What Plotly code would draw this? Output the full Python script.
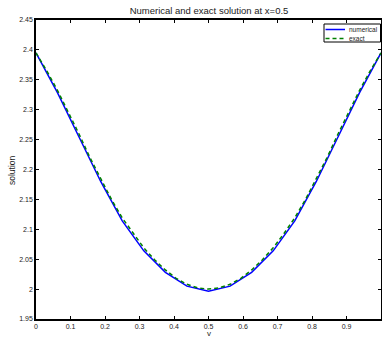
import plotly.graph_objects as go

# numerical solution at nodes v = k/16
v_num = [0, 0.0625, 0.125, 0.1875, 0.25, 0.3125, 0.375, 0.4375, 0.5,
         0.5625, 0.625, 0.6875, 0.75, 0.8125, 0.875, 0.9375, 1.0]
u_num = [2.395, 2.328, 2.254, 2.180, 2.114, 2.064, 2.028, 2.005, 1.9965,
         2.005, 2.028, 2.064, 2.114, 2.180, 2.254, 2.328, 2.395]

# exact solution at v = k/32
v_ex = [0, 0.03125, 0.0625, 0.09375, 0.125, 0.15625, 0.1875, 0.21875, 0.25,
        0.28125, 0.3125, 0.34375, 0.375, 0.40625, 0.4375, 0.46875, 0.5,
        0.53125, 0.5625, 0.59375, 0.625, 0.65625, 0.6875, 0.71875, 0.75,
        0.78125, 0.8125, 0.84375, 0.875, 0.90625, 0.9375, 0.96875, 1.0]
u_ex = [2.395, 2.365, 2.332, 2.296, 2.259, 2.220, 2.184, 2.150, 2.119,
        2.093, 2.069, 2.049, 2.032, 2.018, 2.008, 2.002, 2.000,
        2.002, 2.008, 2.018, 2.032, 2.049, 2.069, 2.093, 2.119,
        2.150, 2.184, 2.220, 2.259, 2.296, 2.332, 2.365, 2.395]

x_ticks = [0, 0.1, 0.2, 0.3, 0.4, 0.5, 0.6, 0.7, 0.8, 0.9, 1]
x_tick_text = ["0", "0.1", "0.2", "0.3", "0.4", "0.5", "0.6", "0.7", "0.8", "0.9", "1"]
y_ticks = [1.95, 2.0, 2.05, 2.1, 2.15, 2.2, 2.25, 2.3, 2.35, 2.4, 2.45]
y_tick_text = ["1.95", "2", "2.05", "2.1", "2.15", "2.2", "2.25", "2.3", "2.35", "2.4", "2.45"]

series_names = ["numerical", "exact"]
series_colors = ["rgb(0,0,255)", "rgb(0,128,0)"]

FONT = "Liberation Sans, Arial, sans-serif"
W, H = 382, 338
L, R, T, B = 36, 1, 20, 19
PW, PH = W - L - R, H - T - B

def px_x(p):
    return (p - L) / PW

def px_y(p):
    return 1 - (p - T) / PH

fig = go.Figure()
fig.add_trace(go.Scatter(x=v_num, y=u_num, mode="lines", name=series_names[0],
                         line=dict(color=series_colors[0], width=1.5)))
fig.add_trace(go.Scatter(x=v_ex, y=u_ex, mode="lines", name=series_names[1],
                         line=dict(color=series_colors[1], width=1.5, dash="4px,3px")))

axis_common = dict(showline=True, linecolor="black", linewidth=1.5, mirror="ticks",
                   ticks="inside", ticklen=3, tickcolor="black", tickwidth=1,
                   showgrid=False, zeroline=False, automargin=False,
                   tickfont=dict(family=FONT, size=7, color="#222"))

shapes = []
annotations = []
# legend box
shapes.append(dict(type="rect", xref="paper", yref="paper",
                   x0=px_x(324), x1=px_x(380.5), y0=px_y(42), y1=px_y(24),
                   line=dict(color="black", width=1), fillcolor="white", layer="above"))
for i, (nm, col) in enumerate(zip(series_names, series_colors)):
    yy = px_y(29.5 + 9 * i)
    shapes.append(dict(type="line", xref="paper", yref="paper",
                       x0=px_x(325.5), x1=px_x(345), y0=yy, y1=yy,
                       line=dict(color=col, width=1.5, dash="solid" if i == 0 else "4px,3px"),
                       layer="above"))
    annotations.append(dict(text=nm, xref="paper", yref="paper", x=px_x(346.5), y=yy,
                            xanchor="left", yanchor="middle", showarrow=False,
                            font=dict(family=FONT, size=6.5, color="#222")))

# axis labels
annotations.append(dict(text="v", xref="paper", yref="paper", x=px_x(209), y=px_y(333.5),
                        xanchor="center", yanchor="middle", showarrow=False,
                        font=dict(family=FONT, size=8, color="#222")))
annotations.append(dict(text="solution", xref="paper", yref="paper", x=px_x(12), y=px_y(170),
                        xanchor="center", yanchor="middle", showarrow=False, textangle=-90,
                        font=dict(family=FONT, size=8.5, color="#222")))

fig.update_layout(
    width=W, height=H,
    margin=dict(l=L, r=R, t=T, b=B),
    paper_bgcolor="white", plot_bgcolor="white",
    title=dict(text="Numerical and exact solution at x=0.5", x=209 / W,
               xanchor="center", y=1 - 11 / H, yanchor="middle", yref="container",
               font=dict(family=FONT, size=9.5, color="#222")),
    xaxis=dict(range=[0, 1], tickvals=x_ticks, ticktext=x_tick_text, **axis_common),
    yaxis=dict(range=[1.95, 2.45], tickvals=y_ticks, ticktext=y_tick_text, **axis_common),
    shapes=shapes,
    annotations=annotations,
    showlegend=False,
)

fig.write_html("out.html", config={"displayModeBar": False},
               post_script="document.body.style.margin='0';document.body.style.overflow='hidden';")
